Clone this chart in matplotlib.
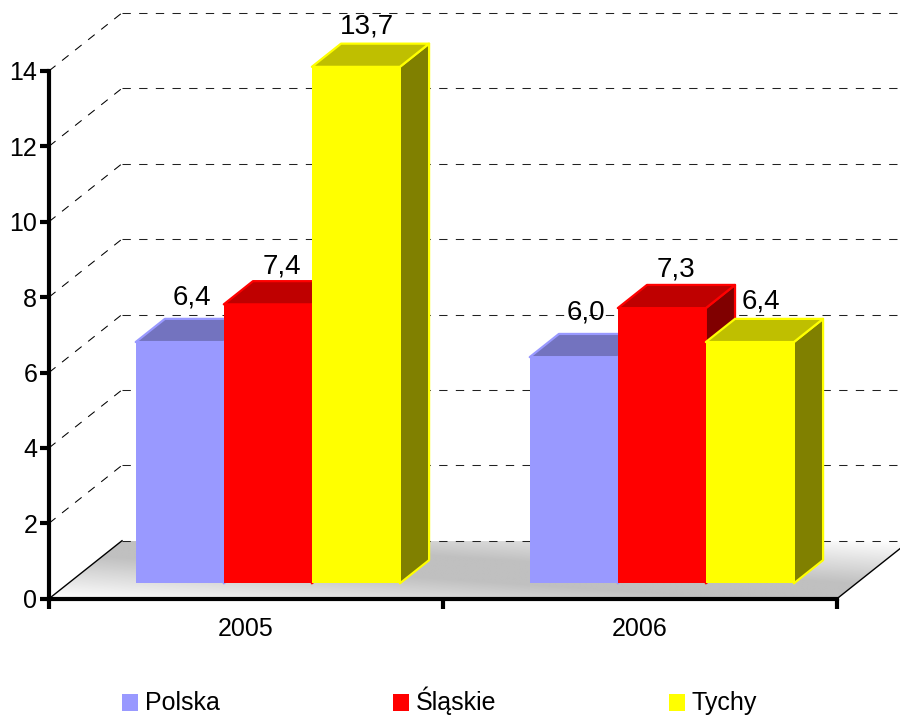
import numpy as np
import matplotlib
matplotlib.use("Agg")
import matplotlib.pyplot as plt
from matplotlib.patches import Polygon, Rectangle

plt.rcParams['font.family'] = ['Liberation Sans', 'DejaVu Sans']

categories = ['2005', '2006']
series_names = ['Polska', 'Śląskie', 'Tychy']
polska = [6.4, 6.0]
slaskie = [7.4, 7.3]
tychy = [13.7, 6.4]
value_ticks = [0, 2, 4, 6, 8, 10, 12, 14]

front_colors = ['#9999FF', '#FF0000', '#FFFF00']
top_colors = ['#7373BF', '#BF0000', '#BFBF00']
side_colors = ['#4D4D80', '#800000', '#808000']

W, H = 900, 718
X0, X_UNIT = 49, 394
Y0, Y_UNIT = 598.7, 37.7
DX, DY = 73 / X_UNIT, 58 / Y_UNIT          # depth of the 3D box in data units
D_FRONT, D_BACK = 0.265, 0.665             # bar front/back inside the depth
BAR_START, BAR_W = 0.171, 0.2235
FS = 18
FS_VAL = 20

fig = plt.figure(figsize=(W / 100, H / 100), dpi=100)
ax = fig.add_axes([0, 0, 1, 1])
ax.set_xlim(-X0 / X_UNIT, (W - X0) / X_UNIT)
ax.set_ylim(-(H - Y0) / Y_UNIT, Y0 / Y_UNIT)

xmax = ax.get_xlim()[1]

# floor with diagonal gradient
gx = np.linspace(0, 2 + DX, 500)
gy = np.linspace(0, DY, 60)
XX, YY = np.meshgrid(gx, gy)
t = 0.5 * XX / (2 + DX) * 1.0 + 0.5 * YY / DY
shade = 192 + (255 - 192) * np.clip((np.abs(t - 0.5) - 0.1) / 0.4, 0, 1)
img = ax.imshow(shade, origin='lower', extent=(0, 2 + DX, 0, DY), cmap='gray',
                vmin=0, vmax=255, aspect='auto', zorder=1, interpolation='bilinear')
floor = Polygon([(0, 0), (2, 0), (2 + DX, DY), (DX, DY)], closed=True,
                transform=ax.transData, fc='none', ec='none')
ax.add_patch(floor)
img.set_clip_path(floor)
ax.set_xlim(-X0 / X_UNIT, (W - X0) / X_UNIT)
ax.set_ylim(-(H - Y0) / Y_UNIT, Y0 / Y_UNIT)

# gridlines on side wall and back wall
dash = (0, (8, 8))
for v in value_ticks:
    if v > 0:
        ax.plot([0, DX], [v, v + DY], color='black', lw=0.75, ls=dash, zorder=2)
    ax.plot([DX, xmax], [v + DY, v + DY], color='#222222', lw=0.75, ls=dash, zorder=2)

# floor edges
ax.plot([0, DX], [0, DY], color='black', lw=1.0, zorder=3)
ax.plot([2, 2 + DX], [0, DY], color='black', lw=1.0, zorder=3)

# 3D bars
label_nudge = {0: (12, 21), 1: (14, 15), 2: (11, 17)}
all_series = [polska, slaskie, tychy]
z = 4
for c in range(len(categories)):
    for s, values in enumerate(all_series):
        v = values[c]
        x1 = c + BAR_START + s * BAR_W + D_FRONT * DX
        x2 = x1 + BAR_W
        y1 = D_FRONT * DY
        d = (D_BACK - D_FRONT)
        ddx, ddy = d * DX, d * DY
        ytop = y1 + v
        ax.add_patch(Polygon([(x2, y1), (x2 + ddx, y1 + ddy), (x2 + ddx, ytop + ddy), (x2, ytop)],
                             fc=side_colors[s], ec=front_colors[s], lw=1.6, zorder=z, joinstyle='round'))
        ax.add_patch(Polygon([(x1, ytop), (x1 + ddx, ytop + ddy), (x2 + ddx, ytop + ddy), (x2, ytop)],
                             fc=top_colors[s], ec=front_colors[s], lw=1.6, zorder=z, joinstyle='round'))
        ax.add_patch(Polygon([(x1, y1), (x2, y1), (x2, ytop), (x1, ytop)],
                             fc=front_colors[s], ec='none', zorder=z + 0.5))
        z += 1
        nx, ny = label_nudge[s]
        ax.annotate(f'{v:.1f}'.replace('.', ','), xy=((x1 + x2) / 2, ytop + ddy),
                    xytext=(nx * 0.72, ny * 0.72), textcoords='offset points',
                    ha='center', va='center', fontsize=FS_VAL, color='black', zorder=40)

# axes
for name in ('top', 'right'):
    ax.spines[name].set_visible(False)
ax.spines['left'].set_position(('data', 0))
ax.spines['bottom'].set_position(('data', 0))
ax.spines['left'].set_bounds(0, 14)
ax.spines['bottom'].set_bounds(0, 2)
for name in ('left', 'bottom'):
    ax.spines[name].set_linewidth(3)
    ax.spines[name].set_color('black')
    ax.spines[name].set_zorder(30)
ax.set_yticks(value_ticks)
ax.set_yticklabels([str(v) for v in value_ticks])
ax.set_xticks([0, 1, 2])
ax.set_xticklabels([])
ax.set_xticks([i + 0.5 for i in range(len(categories))], categories, minor=True)
ax.tick_params(axis='y', length=6.5, width=3, pad=2, labelsize=FS, zorder=30)
ax.tick_params(axis='x', which='major', length=7.5, width=3, zorder=30)
ax.tick_params(axis='x', which='minor', length=0, pad=13, labelsize=FS)
ax.patch.set_alpha(0)

# legend
legend_box_x = [122, 393, 669]
for name, col, lx in zip(series_names, front_colors, legend_box_x):
    fig.add_artist(Rectangle((lx / W, 1 - 711 / H), 16 / W, 17 / H, transform=fig.transFigure,
                             fc=col, ec='none'))
    fig.text((lx + 23) / W, 1 - 710 / H, name, fontsize=FS, va='baseline', ha='left', color='black')

fig.savefig('out.png', dpi=100)
